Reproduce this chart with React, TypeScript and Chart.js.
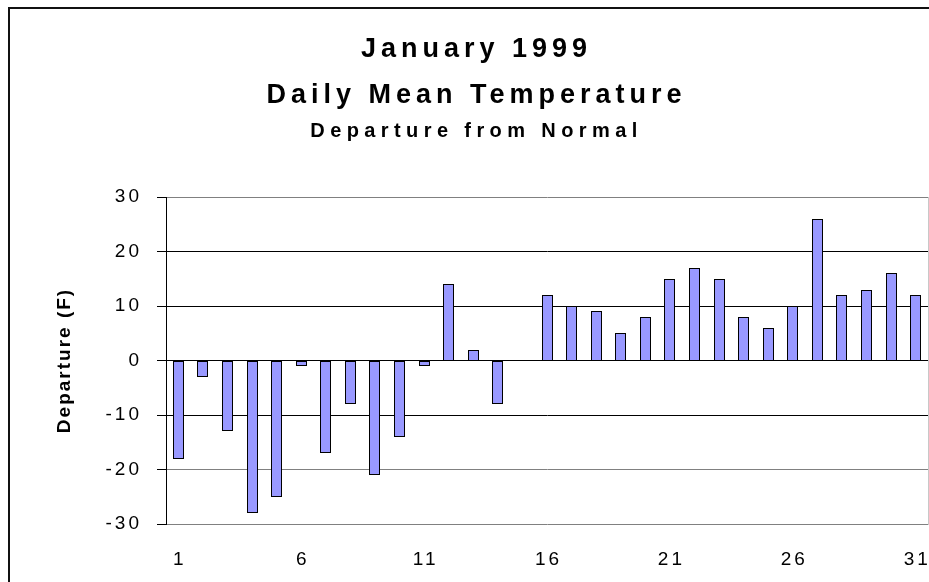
import React, { useEffect, useRef } from 'react';
import { Chart, registerables } from 'chart.js';

Chart.register(...registerables);

const DAYS = ['1', '2', '3', '4', '5', '6', '7', '8', '9', '10', '11', '12', '13', '14', '15', '16',
  '17', '18', '19', '20', '21', '22', '23', '24', '25', '26', '27', '28', '29', '30', '31'];
const DEPARTURE = [-18, -3, -13, -28, -25, -1, -17, -8, -21, -14, -1, 14, 2, -8, null, 12,
  10, 9, 5, 8, 15, 17, 15, 8, 6, 10, 26, 12, 13, 16, 12];
const SHOWN_DAY_LABELS = ['1', '6', '11', '16', '21', '26', '31'];
const Y_MIN = -30;
const Y_MAX = 30;
const Y_STEP = 10;
const GREY_GRID_VALUES = [30, -20, -30];
const TITLE_LINES = ['January 1999', 'Daily Mean Temperature'];
const SUBTITLE = 'Departure from Normal';
const Y_TITLE = 'Departure (F)';

const FONT = "'Liberation Sans', Arial, Helvetica, sans-serif";

function wrapWithSpacing(obj: any, method: string, spacing: string, dx: number) {
  const key = '__wrapped_' + method;
  if (!obj || obj[key] || typeof obj[method] !== 'function') return;
  const orig = obj[method];
  obj[method] = function (...args: any[]) {
    const c = this.ctx;
    c.save();
    c.letterSpacing = spacing;
    if (dx) c.translate(dx, 0);
    const r = orig.apply(this, args);
    c.restore();
    return r;
  };
  obj[key] = true;
}

const spacingPlugin = {
  id: 'letterSpacingPlugin',
  beforeDraw(chart: any) {
    for (const box of chart.boxes || []) {
      if (box.axis) continue;
      if (box.options && box.options.text !== undefined) {
        const isMain = Array.isArray(box.options.text);
        wrapWithSpacing(box, 'draw', isMain ? '5px' : '5.4px', 12);
      }
    }
    const y = chart.scales.y;
    const x = chart.scales.x;
    wrapWithSpacing(y, 'drawLabels', '3px', 0);
    wrapWithSpacing(x, 'drawLabels', '3px', 1.5);
    wrapWithSpacing(y, 'drawTitle', '2px', 0);
  },
};

// snap bars to whole pixels so the 1px outlines stay crisp
const pixelSnapPlugin = {
  id: 'pixelSnap',
  afterDatasetUpdate(_chart: any, args: any) {
    const meta = args.meta;
    for (const bar of meta.data) {
      if (!Number.isFinite(bar.x) || !Number.isFinite(bar.y) || !Number.isFinite(bar.base)) continue;
      bar.width = Math.round(bar.width);
      bar.x = Math.floor(bar.x) + (bar.width % 2 ? 0.5 : 0);
      const positive = bar.y < bar.base;
      bar.base = positive ? Math.ceil(bar.base) : Math.floor(bar.base);
      bar.y = Math.round(bar.y);
    }
  },
};

export default function App() {
  const ref = useRef<HTMLCanvasElement | null>(null);

  useEffect(() => {
    if (!ref.current) return;
    const chart = new Chart(ref.current, {
      type: 'bar',
      data: {
        labels: DAYS,
        datasets: [
          {
            data: DEPARTURE as any,
            backgroundColor: '#9999FF',
            borderColor: '#000000',
            borderWidth: 1,
            borderSkipped: false,
            inflateAmount: 0,
            barPercentage: 0.45,
            categoryPercentage: 1,
          } as any,
        ],
      },
      options: {
        animation: false,
        responsive: true,
        maintainAspectRatio: false,
        layout: { padding: { left: 0, right: 0, top: 0, bottom: 0 } },
        plugins: {
          legend: { display: false },
          tooltip: { enabled: false },
          title: {
            display: true,
            text: TITLE_LINES,
            color: '#000',
            font: { family: FONT, size: 27, weight: 'bold', lineHeight: 1.704 },
            padding: { top: 27, bottom: 0 },
            position: 'top',
            align: 'center',
          },
          subtitle: {
            display: true,
            text: SUBTITLE,
            color: '#000',
            font: { family: FONT, size: 20, weight: 'bold', lineHeight: 1.2 },
            padding: { top: 0, bottom: 54 },
          },
        },
        scales: {
          x: {
            grid: {
              display: true,
              drawOnChartArea: false,
              drawTicks: true,
              tickLength: 23,
              tickColor: 'rgba(0,0,0,0)',
            },
            border: { display: false },
            ticks: {
              autoSkip: false,
              maxRotation: 0,
              minRotation: 0,
              padding: 1,
              color: '#000',
              font: { family: FONT, size: 19 },
              callback: (_v: any, index: number) => {
                const l = DAYS[index];
                return SHOWN_DAY_LABELS.includes(l) ? l : '';
              },
            },
            afterFit: (scale: any) => {
              scale.height = 58;
            },
          },
          y: {
            min: Y_MIN,
            max: Y_MAX,
            ticks: {
              stepSize: Y_STEP,
              padding: 15,
              color: '#000',
              font: { family: FONT, size: 19 },
            },
            grid: {
              color: (c: any) =>
                c.tick && GREY_GRID_VALUES.includes(c.tick.value) ? '#808080' : '#000000',
              lineWidth: 1,
              tickLength: 9,
              tickColor: '#000000',
            },
            border: { display: true, color: '#000000', width: 1 },
            title: {
              display: true,
              text: Y_TITLE,
              color: '#000',
              font: { family: FONT, size: 19, weight: 'bold' },
              padding: { top: 53.5, bottom: 0 },
            },
            afterFit: (scale: any) => {
              scale.width = 166;
            },
          },
          yRight: {
            position: 'right',
            display: true,
            grid: { display: false },
            ticks: { display: false },
            border: { display: true, color: '#c8c8c8', width: 1 },
            afterFit: (scale: any) => {
              scale.width = 1;
            },
          },
        },
      } as any,
      plugins: [spacingPlugin as any, pixelSnapPlugin as any],
    });
    return () => chart.destroy();
  }, []);

  return (
    <div
      style={{
        position: 'fixed',
        left: 0,
        top: 0,
        width: 929,
        height: 582,
        overflow: 'hidden',
        background: '#fff',
      }}
    >
      <div
        style={{
          position: 'absolute',
          left: 8,
          top: 7,
          width: 1000,
          height: 1000,
          borderLeft: '2px solid #111',
          borderTop: '2px solid #111',
        }}
      />
      <div style={{ position: 'absolute', left: 0, top: 0, width: 929, height: 582 }}>
        <canvas ref={ref} />
      </div>
    </div>
  );
}
